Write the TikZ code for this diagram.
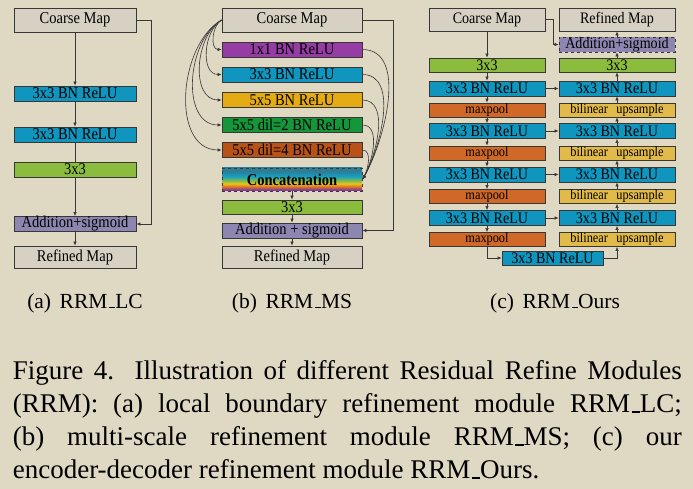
\documentclass[tikz,border=0pt]{standalone}
\usepackage{fontspec}
\setmainfont{Liberation Serif}
\newfontfamily\figfont[FakeStretch=0.88]{Liberation Serif}
\usetikzlibrary{arrows.meta}
\definecolor{bg}{RGB}{223,216,195}
\definecolor{linecol}{RGB}{55,55,55}
\definecolor{mapgray}{RGB}{214,209,195}
\definecolor{convcyan}{RGB}{16,150,190}
\definecolor{convgreen}{RGB}{140,188,62}
\definecolor{addlav}{RGB}{140,134,176}
\definecolor{onepurple}{RGB}{150,60,165}
\definecolor{fiveyellow}{RGB}{228,172,18}
\definecolor{dilgreen}{RGB}{22,150,58}
\definecolor{dilbrown}{RGB}{184,82,22}
\definecolor{poolorange}{RGB}{208,104,40}
\definecolor{upyellow}{RGB}{226,186,74}
\definecolor{concpur}{RGB}{130,60,150}
\definecolor{concorg}{RGB}{225,120,30}
\definecolor{concyel}{RGB}{235,195,30}
\definecolor{concgrn}{RGB}{120,185,80}
\definecolor{conccyn}{RGB}{20,160,195}
\definecolor{concteal}{RGB}{45,125,150}
\pgfdeclareverticalshading{concat}{100bp}{color(0bp)=(concpur); color(25bp)=(concpur); color(28bp)=(concpur); color(35bp)=(concorg); color(41bp)=(concyel); color(48bp)=(concgrn); color(57bp)=(conccyn); color(68bp)=(concteal); color(100bp)=(concteal)}
\newcommand{\uscore}{\leavevmode\kern.06em\vbox{\hrule width.3em height.06em}}
\begin{document}
\begin{tikzpicture}[x=1pt, y=1pt, line width=0.6pt, >={Latex[length=4pt,width=3.5pt]},
block/.style={draw=linecol, line width=0.8pt, inner sep=0pt, minimum height=15pt},
map node/.style={block, fill=mapgray, minimum height=23pt},
cyan node/.style={block, fill=convcyan},
green node/.style={block, fill=convgreen},
add node/.style={block, fill=addlav},
pool node/.style={block, fill=poolorange, minimum height=14pt},
up node/.style={block, fill=upyellow, minimum height=14pt},
concat node/.style={block, dashed, shading=concat, minimum height=23pt, font=\figfont\fontsize{16.5}{17}\selectfont\bfseries}]
\fill[bg] (0,0) rectangle (693,-489);
\useasboundingbox (0,0) rectangle (693,-489);
% (a) RRM_LC
\begin{scope}[every node/.append style={minimum width=122pt, font=\figfont\fontsize{16.5}{17}\selectfont}]
\node[map node, minimum height=24pt] (a0) at (75,-20) {Coarse Map};
\node[cyan node] (a1) at (75,-93.5) {3x3 BN ReLU};
\node[cyan node] (a2) at (75,-134.5) {3x3 BN ReLU};
\node[green node] (a3) at (75,-169.5) {3x3};
\node[add node, minimum height=14pt] (a4) at (75,-224) {Addition+sigmoid};
\node[map node, minimum height=22pt] (a5) at (75,-257) {Refined Map};
\end{scope}
\coordinate (aby) at (151,-20);
\begin{scope}[linecol]
\draw[->] (a0) edge (a1) (a1) edge (a2) (a3) edge (a4) (a4) edge (a5);
\draw (a2) -- (a3);
\draw[->] (a0) -- (aby) |- (a4);
\end{scope}
% (b) RRM_MS
\begin{scope}[every node/.append style={minimum width=140pt, font=\figfont\fontsize{16.5}{17}\selectfont}]
\node[map node, minimum height=24pt] (b0) at (292,-20) {Coarse Map};
\node[block, fill=onepurple] (b1) at (292,-49.5) {1x1 BN ReLU};
\node[cyan node] (b2) at (292,-74.5) {3x3 BN ReLU};
\node[block, fill=fiveyellow] (b3) at (292,-100) {5x5 BN ReLU};
\node[block, fill=dilgreen] (b4) at (292,-125) {5x5 dil=2 BN ReLU};
\node[block, fill=dilbrown] (b5) at (292,-150) {5x5 dil=4 BN ReLU};
\node[concat node] (b6) at (292,-179.5) {Concatenation};
\node[green node, minimum height=14pt] (b7) at (292,-207) {3x3};
\node[add node] (b8) at (292,-230.5) {Addition + sigmoid};
\node[map node, minimum height=22pt] (b9) at (292,-257) {Refined Map};
\end{scope}
\coordinate (bby) at (393,-20);
\begin{scope}[linecol]
\draw[->] (b0.west) to[out=210,in=180] (b1.west);
\draw[->] (b0.west) to[out=210,in=180] (b2.west);
\draw[->] (b0.west) to[out=210,in=180] (b3.west);
\draw[->] (b0.west) to[out=210,in=180] (b4.west);
\draw[->] (b0.west) to[out=210,in=180] (b5.west);
\draw[->] (b1.east) to[out=0,in=60,looseness=0.9] (b6.east);
\draw[->] (b2.east) to[out=0,in=60,looseness=0.9] (b6.east);
\draw[->] (b3.east) to[out=0,in=60,looseness=0.9] (b6.east);
\draw[->] (b4.east) to[out=0,in=60,looseness=0.9] (b6.east);
\draw[->] (b5.east) to[out=0,in=60,looseness=0.9] (b6.east);
\draw[->] (b6) edge (b7) (b7) edge (b8) (b8) edge (b9);
\draw[->] (b0) -- (bby) |- (b8);
\end{scope}
% (c) RRM_Ours
\begin{scope}[every node/.append style={minimum width=116pt, font=\figfont\fontsize{16}{17}\selectfont}]
\node[map node] (c0) at (487,-19.5) {Coarse Map};
\node[green node, minimum height=14pt] (c1) at (487,-65) {3x3};
\node[cyan node] (c2) at (487,-88.5) {3x3 BN ReLU};
\node[pool node] (c3) at (487,-110) {\fontsize{14}{14}\selectfont maxpool};
\node[cyan node] (c4) at (487,-131) {3x3 BN ReLU};
\node[pool node] (c5) at (487,-153) {\fontsize{14}{14}\selectfont maxpool};
\node[cyan node] (c6) at (487,-174.5) {3x3 BN ReLU};
\node[pool node] (c7) at (487,-196.5) {\fontsize{14}{14}\selectfont maxpool};
\node[cyan node] (c8) at (487,-218) {3x3 BN ReLU};
\node[pool node] (c9) at (487,-239.5) {\fontsize{14}{14}\selectfont maxpool};
\node[cyan node, minimum width=101pt, minimum height=14pt] (cb) at (552.5,-258) {3x3 BN ReLU};
\node[map node] (d0) at (617,-19.5) {Refined Map};
\node[add node, dashed] (d1) at (617,-44.5) {Addition+sigmoid};
\node[green node, minimum height=14pt] (d2) at (617,-65) {3x3};
\node[cyan node] (d3) at (617,-88.5) {3x3 BN ReLU};
\node[up node] (d4) at (617,-110) {\fontsize{14}{14}\selectfont bilinear\hspace{0.6em}upsample};
\node[cyan node] (d5) at (617,-131) {3x3 BN ReLU};
\node[up node] (d6) at (617,-153) {\fontsize{14}{14}\selectfont bilinear\hspace{0.6em}upsample};
\node[cyan node] (d7) at (617,-174.5) {3x3 BN ReLU};
\node[up node] (d8) at (617,-196.5) {\fontsize{14}{14}\selectfont bilinear\hspace{0.6em}upsample};
\node[cyan node] (d9) at (617,-218) {3x3 BN ReLU};
\node[up node] (d10) at (617,-239.5) {\fontsize{14}{14}\selectfont bilinear\hspace{0.6em}upsample};
\end{scope}
\coordinate (cby) at (553,-19.5);
\begin{scope}[linecol]
\draw[->] (c0) edge (c1) (c1) edge (c2) (c2) edge (c3) (c3) edge (c4) (c4) edge (c5)
  (c5) edge (c6) (c6) edge (c7) (c7) edge (c8) (c8) edge (c9);
\draw[->] (c9) |- (cb);
\draw[->] (cb) -| (d10);
\draw[->] (d10) edge (d9) (d9) edge (d8) (d8) edge (d7) (d7) edge (d6) (d6) edge (d5)
  (d5) edge (d4) (d4) edge (d3) (d3) edge (d2) (d2) edge (d1) (d1) edge (d0);
\draw[->] (c2) edge (d3) (c4) edge (d5) (c6) edge (d7) (c8) edge (d9);
\draw[->] (c0) -- (cby) |- (d1);
\end{scope}
% captions
\begin{scope}[every node/.append style={anchor=base, inner sep=0pt, font=\fontsize{21.5}{24}\selectfont}]
\node (sa) at (85,-308.3) {(a)\hspace{.4em}RRM\uscore LC};
\node (sb) at (292,-308.3) {(b)\hspace{.4em}RRM\uscore MS};
\node (sc) at (555,-308.3) {(c)\hspace{.4em}RRM\uscore Ours};
\end{scope}
\node[anchor=north west, inner sep=0pt, text width=669pt, align=justify, font=\fontsize{27}{33}\selectfont] (cap) at (12.5,-360.5)
  {\tolerance=10000 \hyphenpenalty=10000 Figure 4. Illustration of different Residual Refine Modules\linebreak
   (RRM): (a) local boundary refinement module RRM\uscore LC;\linebreak
   (b) multi-scale refinement module RRM\uscore MS; (c) our\linebreak
   encoder-decoder refinement module RRM\uscore Ours.};
\end{tikzpicture}
\end{document}
